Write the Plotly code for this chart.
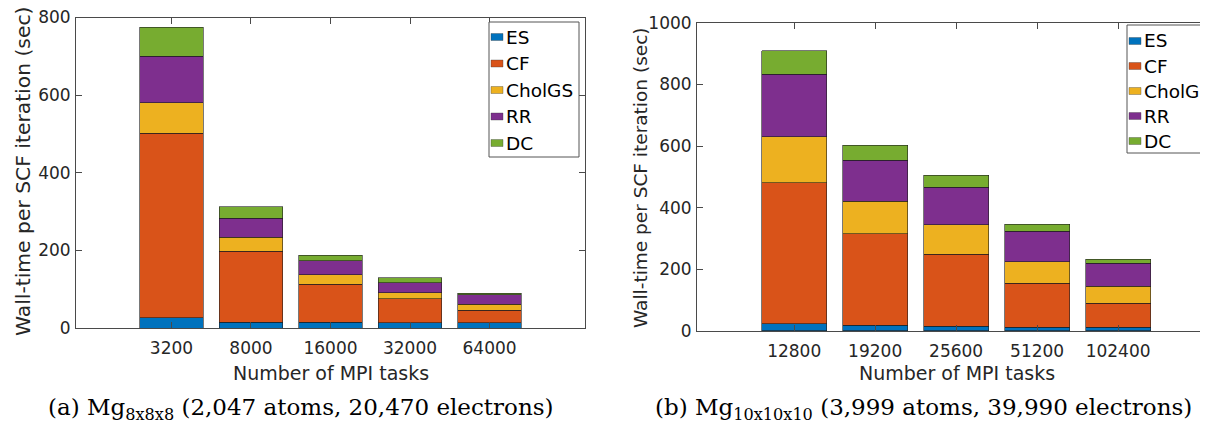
import plotly.graph_objects as go

# ---- data ----
series = ["ES", "CF", "CholGS", "RR", "DC"]
colors = ["#0072BD", "#D95319", "#EDB120", "#7E2F8E", "#77AC30"]

tasks_a = ["3200", "8000", "16000", "32000", "64000"]
es_a = [26, 15, 15, 13, 13]
cf_a = [476, 183, 98, 62, 33]
chol_a = [79, 36, 24, 16, 15]
rr_a = [119, 49, 36, 26, 25]
dc_a = [75, 30, 15, 12, 4]

tasks_b = ["12800", "19200", "25600", "51200", "102400"]
es_b = [23, 18, 15, 12, 12]
cf_b = [458, 298, 234, 143, 78]
chol_b = [149, 105, 95, 70, 55]
rr_b = [202, 133, 123, 99, 75]
dc_b = [77, 48, 38, 23, 13]

values_a = [es_a, cf_a, chol_a, rr_a, dc_a]
values_b = [es_b, cf_b, chol_b, rr_b, dc_b]

# ---- layout helpers (page body has an 8px margin) ----
OFF = 8
FW, FH = 1200, 417
SANS = "DejaVu Sans, Liberation Sans, Arial, sans-serif"
SERIF = "DejaVu Serif, Liberation Serif, serif"
AXC = "#262626"
LINE = "#4a4a4a"


def px_x(p):
    return (p - OFF) / FW


def px_y(p):
    return (FH - (p - OFF)) / FH


fig = go.Figure()

pos_a = list(range(1, len(tasks_a) + 1))
pos_b = list(range(1, len(tasks_b) + 1))
edge = dict(color="rgba(30,30,30,0.75)", width=0.8)

for name, col, vals in zip(series, colors, values_a):
    fig.add_trace(go.Bar(x=pos_a, y=vals, name=name, marker=dict(color=col, line=edge),
                         width=0.8, xaxis="x", yaxis="y", showlegend=False))
for name, col, vals in zip(series, colors, values_b):
    fig.add_trace(go.Bar(x=pos_b, y=vals, name=name, marker=dict(color=col, line=edge),
                         width=0.8, xaxis="x2", yaxis="y2", showlegend=False))

common_x = dict(showline=True, linecolor=LINE, linewidth=1, mirror="ticks", ticks="inside", ticklen=6,
                tickcolor=LINE, tickfont=dict(family=SANS, size=17, color=AXC), showgrid=False,
                zeroline=False, ticklabelstandoff=5, ticklabeloverflow="allow")
common_y = dict(showline=True, linecolor=LINE, linewidth=1, ticks="inside", ticklen=6,
                tickcolor=LINE, tickfont=dict(family=SANS, size=17, color=AXC), showgrid=False,
                zeroline=False, dtick=200, ticklabelstandoff=1, ticklabeloverflow="allow")

fig.update_layout(
    width=FW, height=FH,
    margin=dict(l=0, r=0, t=0, b=0, pad=0, autoexpand=False),
    paper_bgcolor="white", plot_bgcolor="white",
    barmode="stack",
    showlegend=False,
    xaxis=dict(domain=[px_x(76), px_x(585)], range=[-0.2, 6.2], tickvals=pos_a, ticktext=tasks_a,
               anchor="y", **common_x),
    yaxis=dict(domain=[px_y(328), px_y(17.5)], range=[0, 800], anchor="x", mirror="ticks", **common_y),
    xaxis2=dict(domain=[px_x(697), 1.0], range=[-0.2, 6.11], tickvals=pos_b, ticktext=tasks_b,
                anchor="y2", **common_x),
    yaxis2=dict(domain=[px_y(331), px_y(22.7)], range=[0, 1000], anchor="x2", mirror=False, **common_y),
)

ann = []
shapes = []

# axis titles
for xc in (331, 957):
    ann.append(dict(text="Number of MPI tasks", x=px_x(xc), y=px_y(373), xref="paper", yref="paper",
                    showarrow=False, font=dict(family=SANS, size=19, color=AXC),
                    xanchor="center", yanchor="middle"))
ann.append(dict(text="Wall-time per SCF iteration (sec)", x=px_x(23), y=px_y(172), xref="paper", yref="paper",
                showarrow=False, textangle=-90, font=dict(family=SANS, size=20.3, color=AXC),
                xanchor="center", yanchor="middle"))
ann.append(dict(text="Wall-time per SCF iteration (sec)", x=px_x(640), y=px_y(177), xref="paper", yref="paper",
                showarrow=False, textangle=-90, font=dict(family=SANS, size=18.5, color=AXC),
                xanchor="center", yanchor="middle"))

# captions
ann.append(dict(text="(a) Mg<sub>8x8x8</sub> (2,047 atoms, 20,470 electrons)", x=px_x(301), y=px_y(409),
                xref="paper", yref="paper", showarrow=False, font=dict(family=SERIF, size=23, color="black"),
                xanchor="center", yanchor="middle"))
ann.append(dict(text="(b) Mg<sub>10x10x10</sub> (3,999 atoms, 39,990 electrons)", x=px_x(923), y=px_y(409),
                xref="paper", yref="paper", showarrow=False, font=dict(family=SERIF, size=23, color="black"),
                xanchor="center", yanchor="middle"))


# legends (drawn as box + swatches + labels)
def add_legend(x0, x1, y0, y1, first, step):
    shapes.append(dict(type="rect", xref="paper", yref="paper", x0=px_x(x0), x1=px_x(x1),
                       y0=px_y(y1), y1=px_y(y0), line=dict(color="#555", width=1),
                       fillcolor="white", layer="above"))
    for i, (name, col) in enumerate(zip(series, colors)):
        yc = first + i * step
        shapes.append(dict(type="rect", xref="paper", yref="paper", x0=px_x(x0 + 2), x1=px_x(x0 + 14),
                           y0=px_y(yc + 3.5), y1=px_y(yc - 3.5), line=dict(color="rgba(60,60,60,0.6)", width=0.6),
                           fillcolor=col, layer="above"))
        ann.append(dict(text=name, x=px_x(x0 + 15), y=px_y(yc), xref="paper", yref="paper",
                        showarrow=False, font=dict(family=SANS, size=18.5, color="black"),
                        xanchor="left", yanchor="middle"))


add_legend(489, 579, 22, 157, 37, 26.5)
add_legend(1127, 1230, 25, 153, 41, 25)

fig.update_layout(annotations=ann, shapes=shapes)

fig.write_html("out.html")
